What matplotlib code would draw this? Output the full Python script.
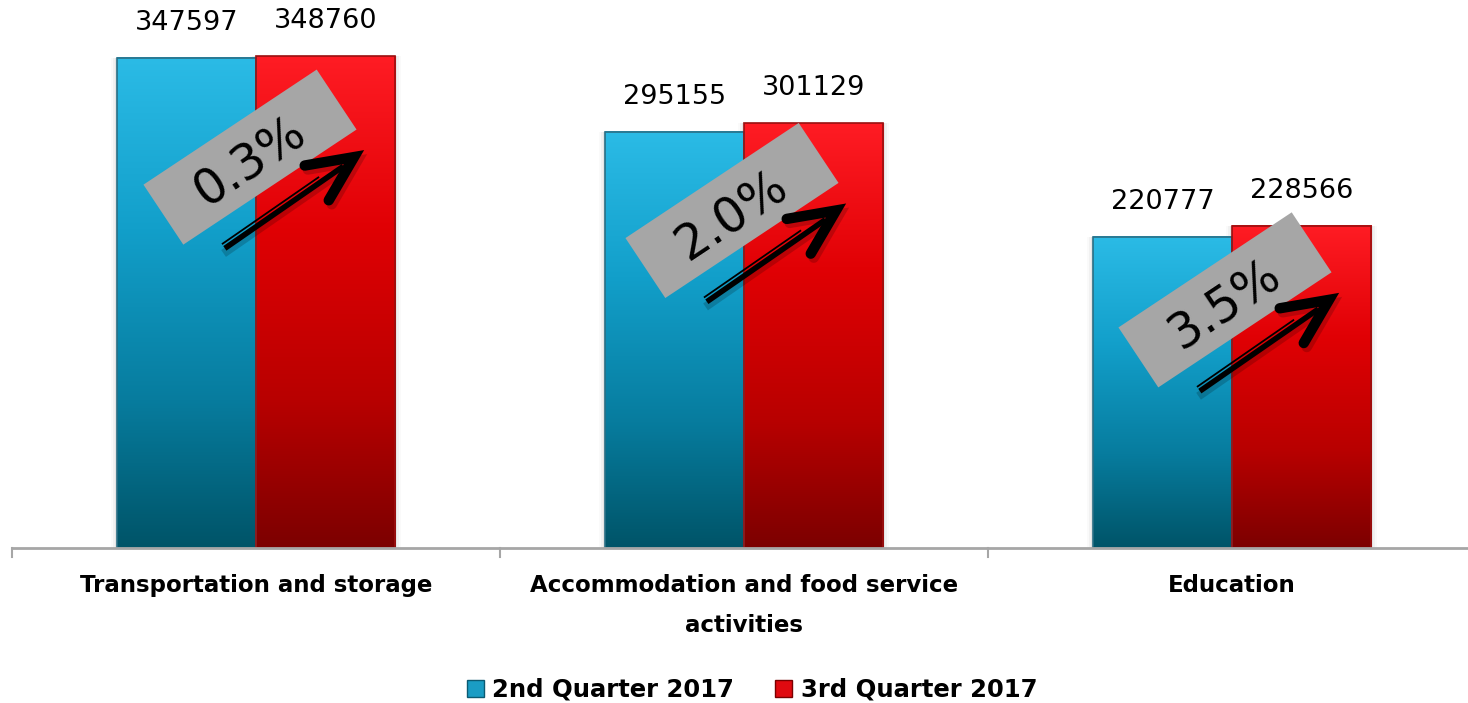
import numpy as np
import matplotlib
matplotlib.use("Agg")
import matplotlib.pyplot as plt
from matplotlib.colors import LinearSegmentedColormap
from matplotlib.patches import Rectangle, Patch
from matplotlib.transforms import Affine2D, IdentityTransform

# ---- data ----
categories = ["Transportation and storage", "Accommodation and food service\nactivities", "Education"]
series_names = ["2nd Quarter 2017", "3rd Quarter 2017"]
q2_values = [347597, 295155, 220777]
q3_values = [348760, 301129, 228566]
pct_labels = ["0.3%", "2.0%", "3.5%"]

W, H = 1468, 703
fig = plt.figure(figsize=(W / 100, H / 100), dpi=100)
fig.patch.set_facecolor("white")

ax_left = 12 / W
ax_width = (1476 - 12) / W
ax_bottom = (H - 548) / H
ax_height = 548 / H
ax = fig.add_axes([ax_left, ax_bottom, ax_width, ax_height])
ax.set_xlim(-0.5, len(categories) - 0.5)
ax.set_ylim(0, 388700)
ax.axis("off")

blue_cmap = LinearSegmentedColormap.from_list(
    "b", [(0, "#005468"), (0.3, "#077c9e"), (0.65, "#129fca"), (1, "#2bbbe6")])
red_cmap = LinearSegmentedColormap.from_list(
    "r", [(0, "#7c0000"), (0.3, "#b80000"), (0.65, "#e00004"), (1, "#ff1c24")])

bw = 0.285
grad = np.linspace(0, 1, 256).reshape(-1, 1)
x = np.arange(len(categories))

def draw_bar(xc, h, cmap, edge):
    x0, x1 = xc - bw / 2, xc + bw / 2
    for i, a in enumerate([0.05, 0.035, 0.02]):
        d = (i + 1) * 0.004
        ax.add_patch(Rectangle((x0 - d, 0), bw + 2 * d, h + d * 3000, facecolor="black",
                               edgecolor="none", alpha=a, zorder=1))
    ax.imshow(grad, extent=[x0, x1, 0, h], origin="lower", aspect="auto", cmap=cmap, zorder=2,
              interpolation="bilinear")
    ax.add_patch(Rectangle((x0, 0), bw, h, facecolor="none", edgecolor=edge, lw=1.2, zorder=3))

for i in range(len(categories)):
    draw_bar(x[i] - bw / 2, q2_values[i], blue_cmap, "#2a6f85")
    draw_bar(x[i] + bw / 2, q3_values[i], red_cmap, "#9a1010")
    ax.annotate(f"{q2_values[i]}", (x[i] - bw / 2, q2_values[i]), xytext=(0, 22), textcoords="offset pixels",
                ha="center", va="bottom", fontsize=19.5, color="black", zorder=6)
    ax.annotate(f"{q3_values[i]}", (x[i] + bw / 2, q3_values[i]), xytext=(0, 22), textcoords="offset pixels",
                ha="center", va="bottom", fontsize=19.5, color="black", zorder=6)

ax.set_xlim(-0.5, len(categories) - 0.5)
ax.set_ylim(0, 388700)

# axis line and ticks
fig.add_artist(plt.Line2D([12 / W, 1.0], [ax_bottom, ax_bottom], color="#a6a6a6", lw=2, transform=fig.transFigure))
for k in range(len(categories)):
    xt = ax.transData.transform((k - 0.5, 0))[0]
    fig.add_artist(plt.Line2D([xt, xt], [H - 548, H - 557], color="#a6a6a6", lw=1.5, transform=IdentityTransform()))

# category labels
for i, c in enumerate(categories):
    xp = ax.transData.transform((x[i], 0))[0]
    fig.text(xp / W, (H - 574) / H, c, ha="center", va="top", fontsize=16.5, fontweight="bold",
             linespacing=1.95)

# percentage boxes and arrows
fig.canvas.draw()
angle = 33.6
bw_px, bh_px = 208, 72
box_frac = [0.795, 0.795, 0.77]
box_dx = [-6, -12, -7]
for i in range(len(categories)):
    cx, cy = ax.transData.transform((x[i], q3_values[i] * box_frac[i]))
    cx += box_dx[i]
    tr = Affine2D().rotate_deg(angle).translate(cx, cy)
    box = Rectangle((-bw_px / 2, -bh_px / 2), bw_px, bh_px, facecolor="#a6a6a6", edgecolor="none",
                    transform=tr, zorder=7)
    fig.add_artist(box)
    fig.text(cx / W, (cy - 5) / H, pct_labels[i], rotation=angle, ha="center", va="center",
             rotation_mode="anchor", fontsize=35, color="black", zorder=8)
    # arrow (display coords, y up)
    tx, ty = cx - 26, cy - 90
    hx, hy = cx + 104, cy
    ang = np.arctan2(hy - ty, hx - tx)
    ux, uy = np.cos(ang), np.sin(ang)
    nx, ny = -uy, ux  # upper-left normal
    I = IdentityTransform()
    fig.add_artist(plt.Line2D([tx + 3, hx - 12 * ux + 3], [ty - 4, hy - 12 * uy - 4],
                              color="black", alpha=0.18, lw=6, transform=I, zorder=8))
    fig.add_artist(plt.Line2D([tx - nx * 1.5, hx - 14 * ux - nx * 1.5], [ty - ny * 1.5, hy - 14 * uy - ny * 1.5],
                              color="black", lw=4, solid_capstyle="butt", transform=I, zorder=9))
    fig.add_artist(plt.Line2D([tx + nx * 3.6, hx - 40 * ux + nx * 3.6], [ty + ny * 3.6, hy - 40 * uy + ny * 3.6],
                              color="black", lw=1.3, solid_capstyle="butt", transform=I, zorder=9))
    L = 50
    pts = []
    for s in (+1, -1):
        a2 = ang + np.pi + s * np.radians(25)
        pts.append((hx + L * np.cos(a2), hy + L * np.sin(a2)))
    xs = [pts[0][0], hx, pts[1][0]]
    ys = [pts[0][1], hy, pts[1][1]]
    fig.add_artist(plt.Line2D([v + 3 for v in xs], [v - 4 for v in ys], color="black", alpha=0.18, lw=7.5,
                              solid_capstyle="round", solid_joinstyle="miter", transform=I, zorder=8))
    fig.add_artist(plt.Line2D(xs, ys, color="black", lw=7.5, solid_capstyle="round", solid_joinstyle="miter",
                              transform=I, zorder=10))

# legend
handles = [Patch(facecolor="#1a9cc4", edgecolor="#0b5a72"), Patch(facecolor="#e00a10", edgecolor="#7a0000")]
fig.legend(handles, series_names, loc="center", bbox_to_anchor=(752 / W, 13 / H), ncol=2, frameon=False,
           prop={"size": 17.5, "weight": "bold"}, handlelength=0.7, handleheight=0.7, handletextpad=0.35,
           columnspacing=1.7)

fig.savefig("out.png", dpi=100, facecolor="white")
